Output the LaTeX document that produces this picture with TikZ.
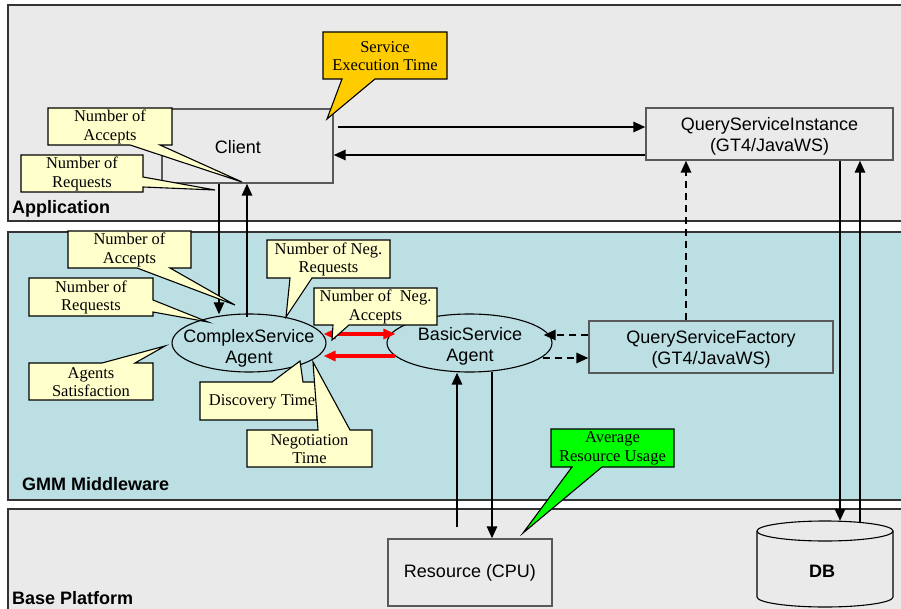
\documentclass[tikz,border=0pt]{standalone}
\usepackage{fontspec}
\setmainfont{Liberation Serif}
\setsansfont{Liberation Sans}
\usetikzlibrary{arrows.meta,shapes.geometric,calc}
\definecolor{appgray}{HTML}{EAEAEA}
\definecolor{mwblue}{HTML}{BBDFE3}
\definecolor{noteyellow}{HTML}{FFFFCC}
\definecolor{notegold}{HTML}{FFCC00}
\definecolor{notegreen}{HTML}{00FF00}
\definecolor{arrred}{HTML}{FF0000}
\tikzset{
 layer/.style={draw=black!80, line width=1.2pt},
 layerlabel/.style={anchor=base west, font=\fontsize{18}{21}\selectfont\sffamily\bfseries, inner sep=0},
 compbox/.style={draw=black!65, line width=1.1pt, inner sep=0, fill=#1},
 sanstext/.style={font=\fontsize{18}{21}\selectfont\sffamily, align=center, inner sep=0},
 agent/.style={ellipse, draw=black, line width=1.1pt, inner sep=0, fill=mwblue},
 note/.style={draw=black, line width=1.1pt, line join=miter, fill=#1},
 notetext/.style={font=\fontsize{16.5}{18.5}\selectfont, align=center, inner sep=0},
 arr/.style={line width=2.6pt, -{Triangle[length=12pt,width=10pt]}},
 darr/.style={line width=2.6pt, dash pattern=on 7pt off 5pt, -{Triangle[length=12pt,width=10pt]}},
 redarr/.style={draw=arrred, line width=3.2pt, arrred},
}
\begin{document}
\begin{tikzpicture}[x=1pt,y=-1pt]
\useasboundingbox (0,0) rectangle (901,609);
\clip (0,0) rectangle (901,609);
\fill[white] (0,0) rectangle (901,609);
% layers
\path[layer, fill=appgray] (8,5) rectangle (912,221);
\path[layer, fill=mwblue] (8,232) rectangle (912,500);
\path[layer, fill=appgray] (8,509) rectangle (912,625);
\node[layerlabel] (lapp) at (12,214) {Application};
\node[layerlabel] (lmw) at (22,490) {GMM Middleware};
\node[layerlabel] (lbase) at (12,604) {Base Platform};
% components
\node[compbox=appgray, minimum width=171pt, minimum height=74pt] (Client) at (247.5,146) {};
\node[sanstext] (ClientT) at (238,147) {Client};
\node[compbox=appgray, minimum width=247pt, minimum height=52pt] (QSI) at (769.5,134) {};
\node[sanstext] (QSIT) at (769.5,136) {QueryServiceInstance\\(GT4/JavaWS)};
\node[compbox=mwblue, minimum width=244pt, minimum height=52pt] (QSF) at (711,347) {};
\node[sanstext] (QSFT) at (711,349) {QueryServiceFactory\\(GT4/JavaWS)};
\node[compbox=appgray, minimum width=164pt, minimum height=67pt] (Res) at (470,572.5) {};
\node[sanstext] (ResT) at (470,573) {Resource (CPU)};
\node[agent, minimum width=154pt, minimum height=58pt] (CSA) at (249,343) {};
\node[sanstext] (CSAT) at (249,348) {ComplexService\\Agent};
\node[agent, minimum width=165pt, minimum height=58pt] (BSA) at (469.5,343) {};
\node[sanstext] (BSAT) at (470,346) {BasicService\\Agent};
% DB cylinder
\path[fill=appgray, draw=black, line width=1.1pt] (757,531) -- (757,597) arc[start angle=180, end angle=0, x radius=68, y radius=10] -- (893,531);
\draw[fill=appgray, line width=1.1pt] (825,531) ellipse[x radius=68, y radius=10];
\node[sanstext, font=\fontsize{18}{21}\selectfont\sffamily\bfseries] (DB) at (822,571) {DB};
\coordinate (dbtop1) at (840,521);
\coordinate (dbtop2) at (860,522.5);
% arrows
\draw[arr] ([xshift=4pt,yshift=19pt]Client.east) -- ([yshift=7pt]QSI.west);
\draw[arr] ([yshift=-21pt]QSI.west) -- ([yshift=-9pt]Client.east);
\draw[arr] ([xshift=-28.5pt]Client.south) -- ([xshift=-30pt,yshift=-1pt]CSA.north);
\draw[arr] ([xshift=-2pt,yshift=-4pt]CSA.north) -- ([xshift=-0.5pt]Client.south);
\draw[arr] ([xshift=-13pt,yshift=11pt]Res.north) -- ([xshift=-12.5pt]BSA.south);
\draw[arr] ([xshift=22.5pt,yshift=1pt]BSA.south) -- ([xshift=22pt]Res.north);
\draw[darr] ([yshift=12pt]QSF.west) -- ([xshift=-9pt,yshift=8pt]BSA.east);
\draw[darr] ([xshift=-10pt,yshift=-15pt]BSA.east) -- ([yshift=-11pt]QSF.west);
\draw[darr] ([xshift=-25pt]QSF.north) -- ([xshift=-83.5pt]QSI.south);
\draw[arr] ([xshift=70.5pt]QSI.south) -- (dbtop1);
\draw[arr] (dbtop2) -- ([xshift=90.5pt]QSI.south);
\draw[redarr, {Triangle[length=12pt,width=10pt]}-{Triangle[length=12pt,width=10pt]}] ([xshift=-3pt,yshift=9pt]CSA.east) -- ([xshift=9pt,yshift=9pt]BSA.west);
\draw[redarr, -{Triangle[length=12pt,width=10pt]}] ([xshift=9pt,yshift=-13pt]BSA.west) -- ([xshift=-3pt,yshift=-13pt]CSA.east);
% callouts
\path[note=notegold] (323,32) -- (447,32) -- (447,79) -- (375,79) -- (327,119) -- (342,79) -- (323,79) -- cycle;
\node[notetext] (nSET) at (385,56) {Service\\Execution Time};
\path[note=noteyellow] (48,108) -- (172,108) -- (172,145) -- (160,145) -- (242,182) -- (130,145) -- (48,145) -- cycle;
\node[notetext] (nAppAcc) at (110,127) {Number of\\Accepts};
\path[note=noteyellow] (21,155) -- (143,155) -- (143,177) -- (215,190) -- (143,187) -- (143,192) -- (21,192) -- cycle;
\node[notetext] (nAppReq) at (82,174) {Number of\\Requests};
\path[note=noteyellow] (68,231) -- (191,231) -- (191,268) -- (170,268) -- (235,305) -- (137,268) -- (68,268) -- cycle;
\node[notetext] (nMwAcc) at (129.5,250) {Number of\\Accepts};
\path[note=noteyellow] (29,278) -- (153,278) -- (153,300) -- (208,322) -- (153,312) -- (153,316) -- (29,316) -- cycle;
\node[notetext] (nMwReq) at (91,297.5) {Number of\\Requests};
\path[note=noteyellow] (29,363) -- (102,363) -- (165,346) -- (135,363) -- (153,363) -- (153,400) -- (29,400) -- cycle;
\node[notetext] (nSat) at (91,382) {Agents\\Satisfaction};
\path[note=noteyellow] (267,240) -- (390,240) -- (390,278) -- (312,278) -- (286,317) -- (290,278) -- (267,278) -- cycle;
\node[notetext] (nNegReq) at (328.5,259.5) {Number of Neg.\\Requests};
\path[note=noteyellow] (314,288) -- (437,288) -- (437,325) -- (349,325) -- (332,340) -- (333,325) -- (314,325) -- cycle;
\node[notetext] (nNegAcc) at (375.5,307) {Number of\ \ Neg.\\Accepts};
\path[note=noteyellow] (200,382) -- (272,382) -- (300,361) -- (303,382) -- (317,382) -- (317,420) -- (200,420) -- cycle;
\node[notetext] (nDisc) at (262,402) {Discovery Time};
\path[note=noteyellow] (247,430) -- (318,430) -- (313,362) -- (350,430) -- (372,430) -- (372,467) -- (247,467) -- cycle;
\node[notetext] (nNegT) at (309.5,449) {Negotiation\\Time};
\path[note=notegreen] (551,429) -- (674,429) -- (674,467) -- (602,467) -- (523,533) -- (572,467) -- (551,467) -- cycle;
\node[notetext] (nARU) at (612.5,448.5) {Average\\Resource Usage};
\end{tikzpicture}
\end{document}
